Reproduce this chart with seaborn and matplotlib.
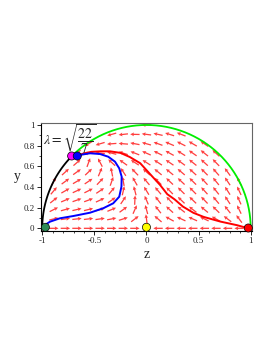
import numpy as np
import pandas as pd
import seaborn as sns
import matplotlib.pyplot as plt
from matplotlib.ticker import MultipleLocator

# ---- data ----
LAMBDA = np.sqrt(22 / 7)

# red trajectory (from the kinetic point at z=1 to the scaling point)
red_z = [0.977, 0.87, 0.71, 0.55, 0.45, 0.35, 0.27, 0.2, 0.13, 0.03,
         -0.06, -0.16, -0.25, -0.35, -0.44, -0.53, -0.6, -0.66]
red_y = [0.0, 0.03, 0.065, 0.11, 0.15, 0.21, 0.28, 0.33, 0.42, 0.53,
         0.63, 0.69, 0.73, 0.745, 0.745, 0.74, 0.725, 0.705]

# blue trajectory (from z=-1 to the scaling point)
blue_z = [-0.974, -0.926, -0.83, -0.702, -0.542, -0.415, -0.319, -0.261,
          -0.24, -0.238, -0.261, -0.302, -0.367, -0.446, -0.542, -0.638, -0.664]
blue_y = [0.032, 0.064, 0.097, 0.119, 0.151, 0.194, 0.242, 0.306,
          0.403, 0.5, 0.58, 0.645, 0.693, 0.719, 0.726, 0.71, 0.70]

# critical points
pt_z = [-0.718, -0.664, -0.97, 0.0, 0.977]
pt_y = [0.70, 0.70, 0.01, 0.01, 0.003]
pt_col = ["#ff00ff", "#0000ff", "#2e8b57", "#ffff00", "#ff0000"]

xticks = [-1, -0.5, 0, 0.5, 1]
xtick_labels = ["-1", "-0.5", "0", "0.5", "1"]
yticks = [0, 0.2, 0.4, 0.6, 0.8, 1]
ytick_labels = ["0", "0.2", "0.4", "0.6", "0.8", "1"]

# boundary z^2 + y^2 = 1 split at the scalar-dominated point
split_angle = np.degrees(np.arctan2(0.70, -0.718))


def field(z, y, lam):
    # exponential-potential quintessence with dust, x = -z
    x = -z
    common = 2 * x**2 + (1 - x**2 - y**2)
    dx = -3 * x + lam * np.sqrt(1.5) * y**2 + 1.5 * x * common
    dy = -lam * np.sqrt(1.5) * x * y + 1.5 * y * common
    return -dx, dy


sns.set_theme(style="white")
plt.rcParams["font.family"] = ["Liberation Serif", "DejaVu Serif"]
plt.rcParams["mathtext.fontset"] = "stix"

fig = plt.figure(figsize=(2.73, 3.53), dpi=100)
ax = fig.add_axes([0.149, 0.3456, 0.775, 0.3068])

# vector field inside the disc
gz, gy = np.meshgrid(np.linspace(-1, 1, 19), np.linspace(0, 1, 12))
inside = gz**2 + gy**2 <= 1.0
fz, fy = field(gz, gy, LAMBDA)
norm = np.hypot(fz, fy)
norm[norm == 0] = 1
L = 0.09
uz = fz / norm * L
uy = fy / norm * L
ax.quiver(gz[inside] - uz[inside] / 2, gy[inside] - uy[inside] / 2,
          uz[inside], uy[inside], angles="xy", scale_units="xy", scale=1,
          color="#ff2a2a", alpha=0.9, width=0.006, headwidth=3,
          headlength=3, headaxislength=2.6, zorder=1)

# boundary arcs
th_g = np.radians(np.linspace(0, split_angle, 200))
th_b = np.radians(np.linspace(split_angle, 180, 100))
ax.plot(np.cos(th_g), np.sin(th_g), color="#00ee00", lw=1.3, zorder=2)
ax.plot(np.cos(th_b), np.sin(th_b), color="black", lw=1.3, zorder=2)

red_df = pd.DataFrame({"z": red_z, "y": red_y})
blue_df = pd.DataFrame({"z": blue_z, "y": blue_y})
sns.lineplot(data=red_df, x="z", y="y", sort=False, estimator=None,
             color="#ff0000", lw=1.4, ax=ax, zorder=3)
sns.lineplot(data=blue_df, x="z", y="y", sort=False, estimator=None,
             color="#0000ff", lw=1.4, ax=ax, zorder=3)

pts = pd.DataFrame({"z": pt_z, "y": pt_y, "c": pt_col})
sns.scatterplot(data=pts, x="z", y="y", hue="c", palette={c: c for c in pt_col},
                s=34, edgecolor="black", linewidth=0.5, legend=False,
                ax=ax, zorder=5, clip_on=False)

ax.text(-0.99, 0.865, r"$\lambda = \sqrt{\dfrac{22}{7}}$", fontsize=10,
        va="center", ha="left", zorder=6, clip_on=False)

ax.set_xlim(-1.015, 1.015)
ax.set_ylim(-0.026, 1.022)
ax.set_xticks(xticks)
ax.set_xticklabels(xtick_labels)
ax.set_yticks(yticks)
ax.set_yticklabels(ytick_labels)
ax.xaxis.set_minor_locator(MultipleLocator(0.1))
ax.yaxis.set_minor_locator(MultipleLocator(0.1))
ax.tick_params(axis="both", which="major", direction="out", length=3,
               width=0.6, labelsize=6.5, pad=1.5, color="black",
               bottom=True, left=True)
ax.tick_params(axis="both", which="minor", direction="out", length=1.5,
               width=0.5, bottom=True, left=True, color="black")

for side in ["top", "right"]:
    ax.spines[side].set_color("#666666")
    ax.spines[side].set_linewidth(0.8)
for side in ["left", "bottom"]:
    ax.spines[side].set_color("black")
    ax.spines[side].set_linewidth(0.8)

ax.set_xlabel("z", fontsize=10, labelpad=2)
ax.set_ylabel("y", fontsize=10, rotation=0, labelpad=4, va="center")

fig.savefig("out.png", dpi=100)
